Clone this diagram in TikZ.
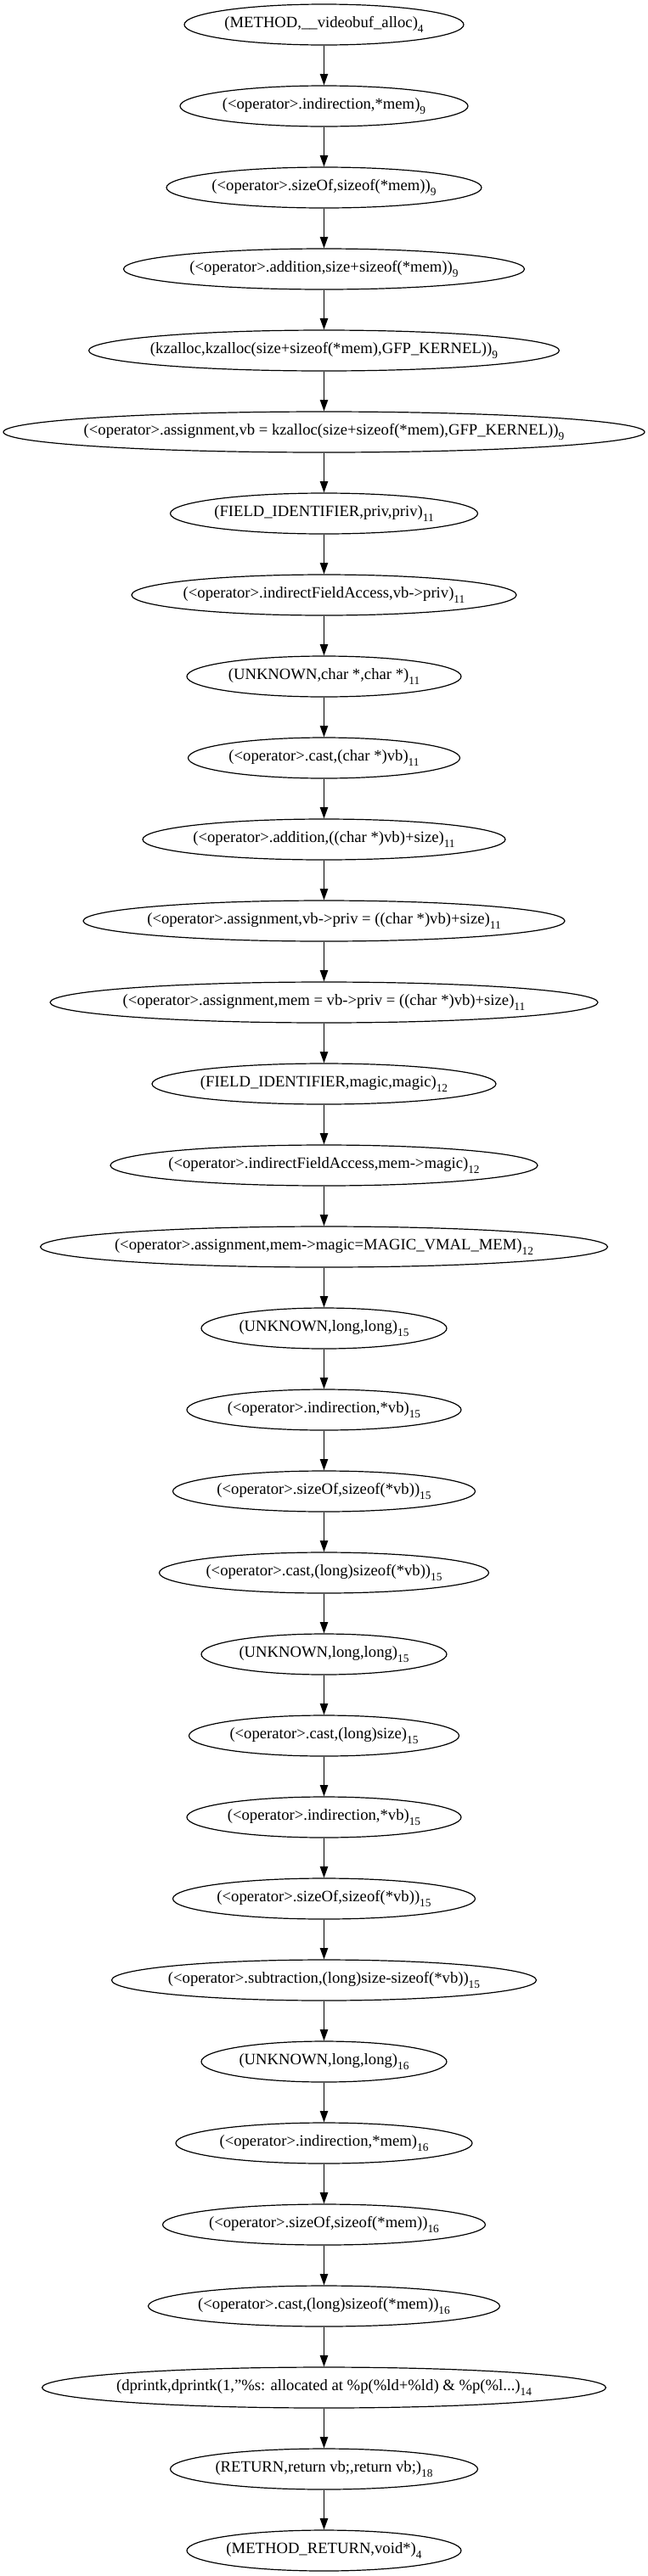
\documentclass[tikz,border=0pt]{standalone}
\usepackage{fontspec}
\setmainfont{Liberation Serif}
\usetikzlibrary{shapes.geometric,arrows.meta}
\newcommand\lno[1]{\raisebox{-4.5pt}{\fontsize{10}{10}\selectfont #1}}
\newcommand\lbl[1]{\makebox[0pt]{#1}}
\begin{document}
\begin{tikzpicture}[x=1pt,y=1pt,
  gnode/.style={draw, ellipse, line width=0.9pt, inner sep=0pt, minimum height=36pt,
    text height=8pt, text depth=3.5pt, font=\fontsize{14}{14}\selectfont},
  garrow/.style={-{Triangle[length=10pt,width=7pt]}, line width=0.9pt}]
\useasboundingbox (0,0) rectangle (572.25,-2276.25);
\node[gnode, minimum width=246.75pt] (n1) at (286.125,-21.75) {\lbl{(METHOD,\_\_videobuf\_alloc)\lno{4}}};
\node[gnode, minimum width=254.25pt] (n2) at (286.125,-93.75) {\lbl{(<operator>.indirection,*mem)\lno{9}}};
\node[gnode, minimum width=278.25pt] (n3) at (286.125,-165.75) {\lbl{(<operator>.sizeOf,sizeof(*mem))\lno{9}}};
\node[gnode, minimum width=354pt] (n4) at (286.125,-237.75) {\lbl{(<operator>.addition,size+sizeof(*mem))\lno{9}}};
\node[gnode, minimum width=415.5pt] (n5) at (286.125,-309.75) {\lbl{(kzalloc,kzalloc(size+sizeof(*mem),GFP\_KERNEL))\lno{9}}};
\node[gnode, minimum width=566.25pt] (n6) at (286.125,-381.75) {\lbl{(<operator>.assignment,vb = kzalloc(size+sizeof(*mem),GFP\_KERNEL))\lno{9}}};
\node[gnode, minimum width=271.5pt] (n7) at (286.125,-453.75) {\lbl{(FIELD\_IDENTIFIER,priv,priv)\lno{11}}};
\node[gnode, minimum width=339.75pt] (n8) at (286.125,-525.75) {\lbl{(<operator>.indirectFieldAccess,vb->priv)\lno{11}}};
\node[gnode, minimum width=242.25pt] (n9) at (286.125,-597.75) {\lbl{(UNKNOWN,char *,char *)\lno{11}}};
\node[gnode, minimum width=240pt] (n10) at (286.125,-669.75) {\lbl{(<operator>.cast,(char *)vb)\lno{11}}};
\node[gnode, minimum width=320.25pt] (n11) at (286.125,-741.75) {\lbl{(<operator>.addition,((char *)vb)+size)\lno{11}}};
\node[gnode, minimum width=425.25pt] (n12) at (286.125,-813.75) {\lbl{(<operator>.assignment,vb->priv = ((char *)vb)+size)\lno{11}}};
\node[gnode, minimum width=483.75pt] (n13) at (286.125,-885.75) {\lbl{(<operator>.assignment,mem = vb->priv = ((char *)vb)+size)\lno{11}}};
\node[gnode, minimum width=303.75pt] (n14) at (286.125,-957.75) {\lbl{(FIELD\_IDENTIFIER,magic,magic)\lno{12}}};
\node[gnode, minimum width=377.25pt] (n15) at (286.125,-1029.75) {\lbl{(<operator>.indirectFieldAccess,mem->magic)\lno{12}}};
\node[gnode, minimum width=501pt] (n16) at (286.125,-1101.75) {\lbl{(<operator>.assignment,mem->magic=MAGIC\_VMAL\_MEM)\lno{12}}};
\node[gnode, minimum width=216.75pt] (n17) at (286.125,-1173.75) {\lbl{(UNKNOWN,long,long)\lno{15}}};
\node[gnode, minimum width=242.25pt] (n18) at (286.125,-1245.75) {\lbl{(<operator>.indirection,*vb)\lno{15}}};
\node[gnode, minimum width=267pt] (n19) at (286.125,-1317.75) {\lbl{(<operator>.sizeOf,sizeof(*vb))\lno{15}}};
\node[gnode, minimum width=291pt] (n20) at (286.125,-1389.75) {\lbl{(<operator>.cast,(long)sizeof(*vb))\lno{15}}};
\node[gnode, minimum width=216.75pt] (n21) at (286.125,-1461.75) {\lbl{(UNKNOWN,long,long)\lno{15}}};
\node[gnode, minimum width=238.5pt] (n22) at (286.125,-1533.75) {\lbl{(<operator>.cast,(long)size)\lno{15}}};
\node[gnode, minimum width=242.25pt] (n23) at (286.125,-1605.75) {\lbl{(<operator>.indirection,*vb)\lno{15}}};
\node[gnode, minimum width=267pt] (n24) at (286.125,-1677.75) {\lbl{(<operator>.sizeOf,sizeof(*vb))\lno{15}}};
\node[gnode, minimum width=375pt] (n25) at (286.125,-1749.75) {\lbl{(<operator>.subtraction,(long)size-sizeof(*vb))\lno{15}}};
\node[gnode, minimum width=216.75pt] (n26) at (286.125,-1821.75) {\lbl{(UNKNOWN,long,long)\lno{16}}};
\node[gnode, minimum width=261.75pt] (n27) at (286.125,-1893.75) {\lbl{(<operator>.indirection,*mem)\lno{16}}};
\node[gnode, minimum width=285pt] (n28) at (286.125,-1965.75) {\lbl{(<operator>.sizeOf,sizeof(*mem))\lno{16}}};
\node[gnode, minimum width=310.5pt] (n29) at (286.125,-2037.75) {\lbl{(<operator>.cast,(long)sizeof(*mem))\lno{16}}};
\node[gnode, minimum width=498pt] (n30) at (286.125,-2109.75) {\lbl{(dprintk,dprintk(1,"\%s: allocated at \%p(\%ld+\%ld) \& \%p(\%l...)\lno{14}}};
\node[gnode, minimum width=271.5pt] (n31) at (286.125,-2181.75) {\lbl{(RETURN,return vb;,return vb;)\lno{18}}};
\node[gnode, minimum width=242.25pt] (n32) at (286.125,-2253.75) {\lbl{(METHOD\_RETURN,void*)\lno{4}}};
\foreach \i [evaluate=\i as \j using int(\i+1)] in {1,...,31}
  \draw[garrow] (n\i) -- (n\j);
\end{tikzpicture}
\end{document}
